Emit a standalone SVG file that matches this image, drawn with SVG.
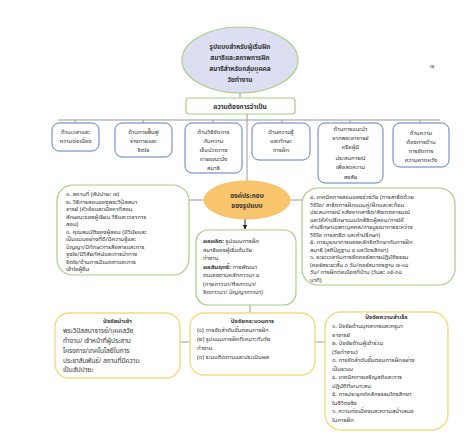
<svg xmlns="http://www.w3.org/2000/svg" width="473" height="440" viewBox="0 0 473 440">
<style>
text{font-family:"Noto Sans Thai","Noto Sans","Liberation Sans",sans-serif;fill:#333;}
.t{font-size:6.5px;}
.s{font-size:6px;}
.m{font-size:6.6px;}
.b{font-weight:bold;}
.c{text-anchor:middle;}
.blue{fill:#fff;stroke:#5b7fb8;stroke-width:1;}
.grn{fill:#fff;stroke:#a9cc85;stroke-width:1.2;}
.yel{fill:#fff;stroke:#f3dc7c;stroke-width:1.4;}
.ln{stroke:#9a9a9a;stroke-width:1;fill:none;}
</style>
<defs>
<marker id="ah" viewBox="0 0 10 10" refX="9" refY="5" markerWidth="5" markerHeight="5" orient="auto"><path d="M0,0 L10,5 L0,10z" fill="#222"/></marker>
</defs>
<rect width="473" height="440" fill="#fff"/>
<g id="connectors">
<line class="ln" x1="240" y1="93" x2="240" y2="98"/>
<line class="ln" x1="247" y1="114" x2="247" y2="181"/>
<line class="ln" x1="58" y1="120" x2="440" y2="120"/>
<line class="ln" x1="75" y1="120" x2="75" y2="123"/>
<line class="ln" x1="143" y1="120" x2="143" y2="123"/>
<line class="ln" x1="213" y1="120" x2="213" y2="123"/>
<line class="ln" x1="282" y1="120" x2="282" y2="123"/>
<line class="ln" x1="350" y1="120" x2="350" y2="123"/>
<line class="ln" x1="420" y1="120" x2="420" y2="123"/>
<line class="ln" x1="189" y1="200" x2="204" y2="200"/>
<line class="ln" x1="290" y1="200" x2="302" y2="200"/>
<line x1="245" y1="219" x2="245" y2="229" stroke="#222" stroke-width="1" marker-end="url(#ah)"/>
<line class="ln" x1="250" y1="305" x2="250" y2="313"/>
<line class="ln" x1="180" y1="342" x2="190" y2="342"/>
<line class="ln" x1="315" y1="342" x2="325" y2="342"/>
</g>
<g id="top">
<ellipse cx="240" cy="60" rx="58" ry="33" fill="#dcdff1" stroke="#a9cc85" stroke-width="1.2"/>
<text class="t b c" x="240" y="49">รูปแบบสำหรับผู้เริ่มฝึก</text>
<text class="t b c" x="240" y="60">สมาธิและสภาพการฝึก</text>
<text class="t b c" x="240" y="71">สมาธิสำหรับกลุ่มบุคคล</text>
<text class="t b c" x="240" y="82">วัยทำงาน</text>
</g>
<text class="s" x="430" y="68">๗</text>
<g id="need">
<rect class="grn" x="186" y="98" width="109" height="16" rx="3"/>
<text class="t b c" x="240" y="108.5">ความต้องการจำเป็น</text>
</g>
<g id="n1">
<rect class="blue" x="52" y="123" width="47" height="28" rx="7"/>
<text class="s c" x="75.5" y="134">ด้านเวลาและ</text>
<text class="s c" x="75.5" y="143">ความต่อเนื่อง</text>
</g>
<g id="n2">
<rect class="blue" x="115" y="123" width="57" height="34" rx="7"/>
<text class="s c" x="143.5" y="134">ด้านการฟื้นฟู</text>
<text class="s c" x="143.5" y="143">ร่างกายและ</text>
<text class="s c" x="143.5" y="152">จิตใจ</text>
</g>
<g id="n3">
<rect class="blue" x="185" y="123" width="57" height="50" rx="7"/>
<text class="s c" x="213.5" y="134">ด้านวิธีจัดการ</text>
<text class="s c" x="213.5" y="143">กับความ</text>
<text class="s c" x="213.5" y="152">เจ็บปวดทาง</text>
<text class="s c" x="213.5" y="161">กายขณะนั่ง</text>
<text class="s c" x="213.5" y="170">สมาธิ</text>
</g>
<g id="n4">
<rect class="blue" x="252" y="123" width="58" height="37" rx="7"/>
<text class="s c" x="281" y="134">ด้านความรู้</text>
<text class="s c" x="281" y="143">และทักษะ</text>
<text class="s c" x="281" y="152">การฝึก</text>
</g>
<g id="n5">
<rect class="blue" x="318" y="123" width="65" height="60" rx="7"/>
<text class="s c" x="350.5" y="131">ด้านการแนะนำ</text>
<text class="s c" x="350.5" y="140">จากพระอาจารย์</text>
<text class="s c" x="350.5" y="149">หรือผู้มี</text>
<text class="s c" x="350.5" y="160">ประสบการณ์</text>
<text class="s c" x="350.5" y="169">เพื่อลดความ</text>
<text class="s c" x="350.5" y="179">สงสัย</text>
</g>
<g id="n6">
<rect class="blue" x="393" y="123" width="56" height="44" rx="7"/>
<text class="s c" x="421" y="135">ด้านความ</text>
<text class="s c" x="421" y="144">ต้องการด้าน</text>
<text class="s c" x="421" y="153">การจัดการ</text>
<text class="s c" x="421" y="162">ความคาดหวัง</text>
</g>
<g id="center">
<ellipse cx="247" cy="200" rx="43" ry="19" fill="#f9c56d" stroke="#f5c060" stroke-width="1"/>
<text class="t b c" x="247" y="198">องค์ประกอบ</text>
<text class="t b c" x="247" y="208">ของรูปแบบ</text>
</g>
<g id="left">
<rect class="grn" x="57" y="185" width="132" height="90" rx="16"/>
<text class="s" x="66" y="196">๑. สถานที่ (สัปปายะ ๗)</text>
<text class="s" x="66" y="203.5">๒. วิธีการสอนของพระวิปัสสนา</text>
<text class="s" x="66" y="211">จารย์ (หัวข้อและเนื้อหาที่สอน</text>
<text class="s" x="66" y="218.5">ลักษณะของผู้เรียน วิธีและเวลาการ</text>
<text class="s" x="66" y="226">สอน)</text>
<text class="s" x="66" y="233.5">๓. คุณสมบัติของผู้สอน (มีวินัยและ</text>
<text class="s" x="66" y="241">เป็นแบบอย่างที่ดี/มีความรู้และ</text>
<text class="s" x="66" y="248.5">ปัญญา/มีทักษะการสื่อสารและการ</text>
<text class="s" x="66" y="256">จูงใจ/มีวิสัยทัศน์และการนำทาง</text>
<text class="s" x="66" y="263.5">จิตใจ/ด้านการมีเมตตาและการ</text>
<text class="s" x="66" y="271">เข้าใจผู้อื่น</text>
</g>
<g id="right">
<rect class="grn" x="302" y="188" width="153" height="97" rx="16"/>
<text class="s" x="310" y="199">๔. เทคนิคการสอนของช่วงวัย (การสาธิตด้วย</text>
<text class="s" x="310" y="206.5">วิดีโอ/ สาธิตการฝึกแบบคู่/ฝึกและสะท้อน</text>
<text class="s" x="310" y="214">ประสบการณ์ หลังจากสาธิต/สังเกตอารมณ์</text>
<text class="s" x="310" y="221.5">และให้คำปรึกษาแบบใกล้ชิดผู้สอน/การให้</text>
<text class="s" x="310" y="229">คำปรึกษาเฉพาะบุคคล/การบูรณาการระหว่าง</text>
<text class="s" x="310" y="236.5">วิดีโอ การสาธิต และคำปรึกษา)</text>
<text class="s" x="310" y="244">๕. การบูรณาการของหลักจิตวิทยากับการฝึก</text>
<text class="s" x="310" y="251.5">สมาธิ (สติปัฏฐาน ๔ และไตรสิกขา)</text>
<text class="s" x="310" y="259">๖. ระยะเวลาในการจัดคอร์สการปฏิบัติธรรม</text>
<text class="s" x="310" y="266.5">(คอร์สระยะสั้น ๓ วัน/คอร์สมาตรฐาน ๗-๑๐</text>
<text class="s" x="310" y="274">วัน/ การฝึกต่อเนื่องที่บ้าน (วันละ ๑๕-๓๐</text>
<text class="s" x="310" y="281.5">นาที)</text>
</g>
<g id="product">
<rect class="grn" x="196" y="230" width="100" height="75" rx="12"/>
<text class="s" x="203" y="243"><tspan class="b">ผลผลิต:</tspan> รูปแบบการฝึก</text>
<text class="s" x="203" y="251.5">สมาธิของผู้เริ่มต้นวัย</text>
<text class="s" x="203" y="260">ทำงาน</text>
<text class="s" x="203" y="268.5"><tspan class="b">ผลสัมฤทธิ์:</tspan> การพัฒนา</text>
<text class="s" x="203" y="277">ตนเองตามหลักภาวนา ๔</text>
<text class="s" x="203" y="285.5">(กายภาวนา/ศีลภาวนา/</text>
<text class="s" x="203" y="294">จิตภาวนา/ ปัญญาภาวนา)</text>
</g>
<g id="input">
<rect class="yel" x="55" y="313" width="125" height="65" rx="14"/>
<text class="s b c" x="117.5" y="323">ปัจจัยนำเข้า</text>
<text class="m" x="63" y="333">พระวิปัสสนาจารย์/บุคคลวัย</text>
<text class="m" x="63" y="343">ทำงาน/ เจ้าหน้าที่ผู้ประสาน</text>
<text class="m" x="63" y="353">โครงการ/เทคโนโลยีในการ</text>
<text class="m" x="63" y="363">ประชาสัมพันธ์/ สถานที่มีความ</text>
<text class="m" x="63" y="372">เป็นสัปปายะ</text>
</g>
<g id="process">
<rect class="yel" x="190" y="313" width="125" height="62" rx="14"/>
<text class="s b c" x="252.5" y="323">ปัจจัยกระบวนการ</text>
<text class="s" x="197" y="332">(๑) การจัดลำดับขั้นตอนการฝึก</text>
<text class="s" x="197" y="341">(๒) รูปแบบการฝึกที่เหมาะกับวัย</text>
<text class="s" x="197" y="350">ทำงาน</text>
<text class="s" x="197" y="359">(๓) ระบบติดตามและประเมินผล</text>
</g>
<g id="success">
<rect class="yel" x="325" y="312" width="123" height="118" rx="16"/>
<text class="s b c" x="386.5" y="319">ปัจจัยความสำเร็จ</text>
<text class="s" x="332" y="328">๑. ปัจจัยด้านบุคลากรและครูบา</text>
<text class="s" x="332" y="336.5">อาจารย์</text>
<text class="s" x="332" y="345">๒. ปัจจัยด้านผู้เข้าร่วม</text>
<text class="s" x="332" y="353.5">(วัยทำงาน)</text>
<text class="s" x="332" y="362">๓. การจัดลำดับขั้นตอนการฝึกอย่าง</text>
<text class="s" x="332" y="370.5">เป็นระบบ</text>
<text class="s" x="332" y="379">๔. เทคนิคการเจริญสติและการ</text>
<text class="s" x="332" y="387.5">ปฏิบัติที่เหมาะสม</text>
<text class="s" x="332" y="396">๕. การประยุกต์หลักธรรมไตรสิกขา</text>
<text class="s" x="332" y="404.5">ในชีวิตจริง</text>
<text class="s" x="332" y="413">๖. ความต่อเนื่องและความสม่ำเสมอ</text>
<text class="s" x="332" y="421.5">ในการฝึก</text>
</g>
</svg>
